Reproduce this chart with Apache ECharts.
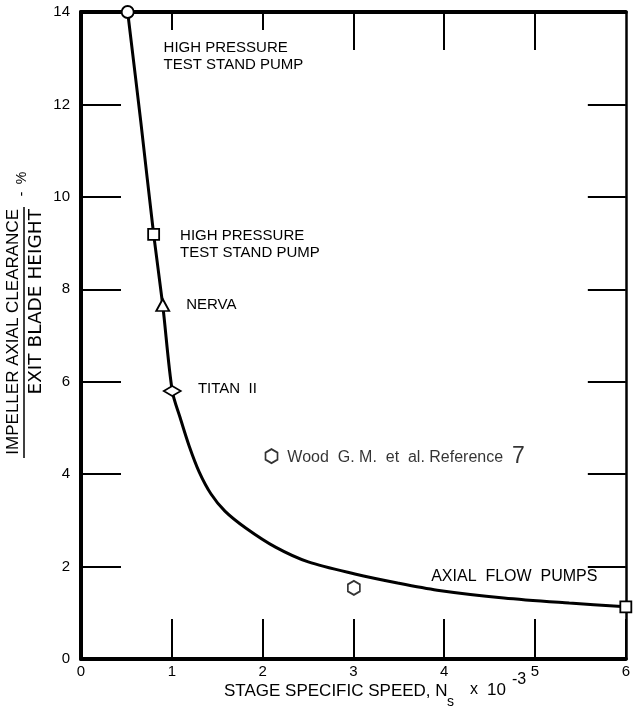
<!DOCTYPE html>
<html>
<head>
<meta charset="utf-8">
<script src="https://cdn.jsdelivr.net/npm/echarts@6/dist/echarts.min.js"></script>
<style>
html,body{margin:0;padding:0;background:#fff;}
#chart{width:633px;height:709px;}
</style>
</head>
<body>
<div id="chart"></div>
<script>
// ---- data ----
const curveX = [0.514, 0.660, 0.800, 0.900, 1.005, 1.093, 1.191, 1.301, 1.432, 1.585, 1.814, 2.142, 2.503, 3.016, 3.486, 3.923, 4.656, 5.377, 6.0];
const curveY = [14.0, 11.60, 9.19, 7.66, 5.80, 5.215, 4.61, 4.05, 3.57, 3.20, 2.835, 2.42, 2.10, 1.84, 1.645, 1.49, 1.32, 1.21, 1.13];

const pointNames = ['HIGH PRESSURE\nTEST STAND PUMP', 'HIGH PRESSURE\nTEST STAND PUMP', 'NERVA', 'TITAN  II', 'AXIAL  FLOW  PUMPS'];
const pointX = [0.514, 0.800, 0.900, 1.005, 6.0];
const pointY = [14.0, 9.19, 7.66, 5.80, 1.13];

const woodName = 'Wood  G. M.  et  al. Reference';
const woodRef = '7';
const woodX = [2.098, 3.005];
const woodY = [4.39, 1.54];

const xMin = 0, xMax = 6, xStep = 1;
const yMin = 0, yMax = 14, yStep = 2;
const topLongTicks = [3, 4, 5];
const topShortTicks = [1, 2];

const xTitle = ['STAGE SPECIFIC SPEED, N', 's', 'x', '10', '-3'];
const yTitleTop = 'IMPELLER AXIAL CLEARANCE';
const yTitleBottom = 'EXIT BLADE HEIGHT';
const yTitleUnit = ['-', '%'];

// ---- styles (kept separate from data) ----
const FONT = 'Liberation Sans';
const hexPath = 'path://M5,0 L10,3 L10,9 L5,12 L0,9 L0,3 Z';
const markerStyles = [
  {symbol: 'circle', size: 12, label: {position: 'right', distance: 29, offset: [0, 44]}},
  {symbol: 'rect', size: 11, label: {position: 'right', distance: 20, offset: [0, 10]}},
  {symbol: 'triangle', size: [13, 12], label: {position: 'right', distance: 16, offset: [0, 0]}},
  {symbol: 'diamond', size: [17, 10], label: {position: 'right', distance: 16, offset: [0, -2]}},
  {symbol: 'rect', size: 11, label: {position: 'left', distance: 22, offset: [0, -30], fontSize: 16}}
];

const chart = echarts.init(document.getElementById('chart'), null, {renderer: 'canvas'});

const axisLineBold = {show: true, onZero: false, lineStyle: {color: '#000', width: 4}};
const series = [];

series.push({
  type: 'line',
  xAxisIndex: 0, yAxisIndex: 0,
  data: curveX.map((x, i) => [x, curveY[i]]),
  smooth: 0.3,
  showSymbol: false,
  clip: false,
  lineStyle: {color: '#000', width: 3},
  z: 2,
  silent: true
});

pointX.forEach((x, i) => {
  const st = markerStyles[i];
  series.push({
    type: 'scatter',
    xAxisIndex: 0, yAxisIndex: 0,
    data: [[x, pointY[i]]],
    symbol: st.symbol,
    symbolSize: st.size,
    clip: false,
    itemStyle: {color: '#fff', borderColor: '#000', borderWidth: 1.8, opacity: 1},
    label: {
      show: true,
      formatter: pointNames[i],
      position: st.label.position,
      distance: st.label.distance,
      offset: st.label.offset,
      color: '#000',
      fontFamily: FONT,
      fontSize: st.label.fontSize || 15,
      lineHeight: 17
    },
    z: 5
  });
});

series.push({
  type: 'scatter',
  xAxisIndex: 0, yAxisIndex: 0,
  data: woodX.map((x, i) => [x, woodY[i]]),
  symbol: hexPath,
  symbolSize: [12, 14],
  itemStyle: {color: '#fff', borderColor: '#000', borderWidth: 1.8},
  label: {
    show: true,
    position: 'right',
    distance: 9,
    offset: [0, 1],
    formatter: p => p.dataIndex === 0 ? '{a|' + woodName + '  }{b|' + woodRef + '}' : '',
    rich: {
      a: {fontFamily: FONT, fontSize: 16, color: '#000'},
      b: {fontFamily: FONT, fontSize: 23, color: '#000'}
    }
  },
  z: 5
});

const option = {
  backgroundColor: '#fff',
  animation: false,
  grid: {left: 81, top: 12, width: 550, bottom: 50, containLabel: false},
  xAxis: [
    {
      type: 'value', position: 'bottom', min: xMin, max: xMax, interval: xStep,
      axisLine: axisLineBold,
      axisTick: {show: true, inside: true, length: 40, lineStyle: {color: '#000', width: 2}},
      axisLabel: {color: '#000', fontFamily: FONT, fontSize: 15, margin: 5},
      splitLine: {show: false}
    },
    {
      type: 'value', position: 'top', min: xMin, max: xMax, interval: xStep,
      axisLine: axisLineBold,
      axisTick: {show: true, inside: true, length: 38, customValues: topLongTicks, lineStyle: {color: '#000', width: 2}},
      axisLabel: {show: false},
      splitLine: {show: false}
    },
    {
      type: 'value', position: 'top', offset: 0, min: xMin, max: xMax, interval: xStep,
      axisLine: {show: false, onZero: false},
      axisTick: {show: true, inside: true, length: 18, customValues: topShortTicks, lineStyle: {color: '#000', width: 2}},
      axisLabel: {show: false},
      splitLine: {show: false}
    }
  ],
  yAxis: [
    {
      type: 'value', position: 'left', min: yMin, max: yMax, interval: yStep,
      axisLine: axisLineBold,
      axisTick: {show: true, inside: true, length: 40, lineStyle: {color: '#000', width: 2}},
      axisLabel: {color: '#000', fontFamily: FONT, fontSize: 15, margin: 11},
      splitLine: {show: false}
    },
    {
      type: 'value', position: 'right', min: yMin, max: yMax, interval: yStep,
      axisLine: {show: true, onZero: false, lineStyle: {color: '#000', width: 2.5}},
      axisTick: {show: true, inside: true, length: 38, lineStyle: {color: '#000', width: 2}},
      axisLabel: {show: false},
      splitLine: {show: false}
    }
  ],
  series: series,
  graphic: [
    // x-axis title
    {type: 'text', x: 224, y: 691, style: {text: xTitle[0], font: '17px "' + FONT + '"', fill: '#000', textAlign: 'left', textVerticalAlign: 'middle'}},
    {type: 'text', x: 447, y: 702, style: {text: xTitle[1], font: '14px "' + FONT + '"', fill: '#000', textAlign: 'left', textVerticalAlign: 'middle'}},
    {type: 'text', x: 470, y: 690, style: {text: xTitle[2], font: '16px "' + FONT + '"', fill: '#000', textAlign: 'left', textVerticalAlign: 'middle'}},
    {type: 'text', x: 487, y: 690, style: {text: xTitle[3], font: '17px "' + FONT + '"', fill: '#000', textAlign: 'left', textVerticalAlign: 'middle'}},
    {type: 'text', x: 512, y: 680, style: {text: xTitle[4], font: '16px "' + FONT + '"', fill: '#000', textAlign: 'left', textVerticalAlign: 'middle'}},
    // y-axis title (fraction)
    {type: 'text', x: 13, y: 209, rotation: Math.PI / 2, style: {text: yTitleTop, font: '17px "' + FONT + '"', fill: '#000', textAlign: 'right', textVerticalAlign: 'middle'}},
    {type: 'line', shape: {x1: 24, y1: 458, x2: 24, y2: 207}, style: {stroke: '#000', lineWidth: 1.5}},
    {type: 'text', x: 36, y: 209, rotation: Math.PI / 2, style: {text: yTitleBottom, font: '18.5px "DejaVu Sans"', fill: '#000', textAlign: 'right', textVerticalAlign: 'middle'}},
    {type: 'text', x: 22, y: 194, rotation: Math.PI / 2, style: {text: yTitleUnit[0], font: '15px "' + FONT + '"', fill: '#000', textAlign: 'center', textVerticalAlign: 'middle'}},
    {type: 'text', x: 22, y: 178, rotation: Math.PI / 2, style: {text: yTitleUnit[1], font: '14px "' + FONT + '"', fill: '#000', textAlign: 'center', textVerticalAlign: 'middle'}}
  ]
};

chart.setOption(option);
</script>
</body>
</html>
